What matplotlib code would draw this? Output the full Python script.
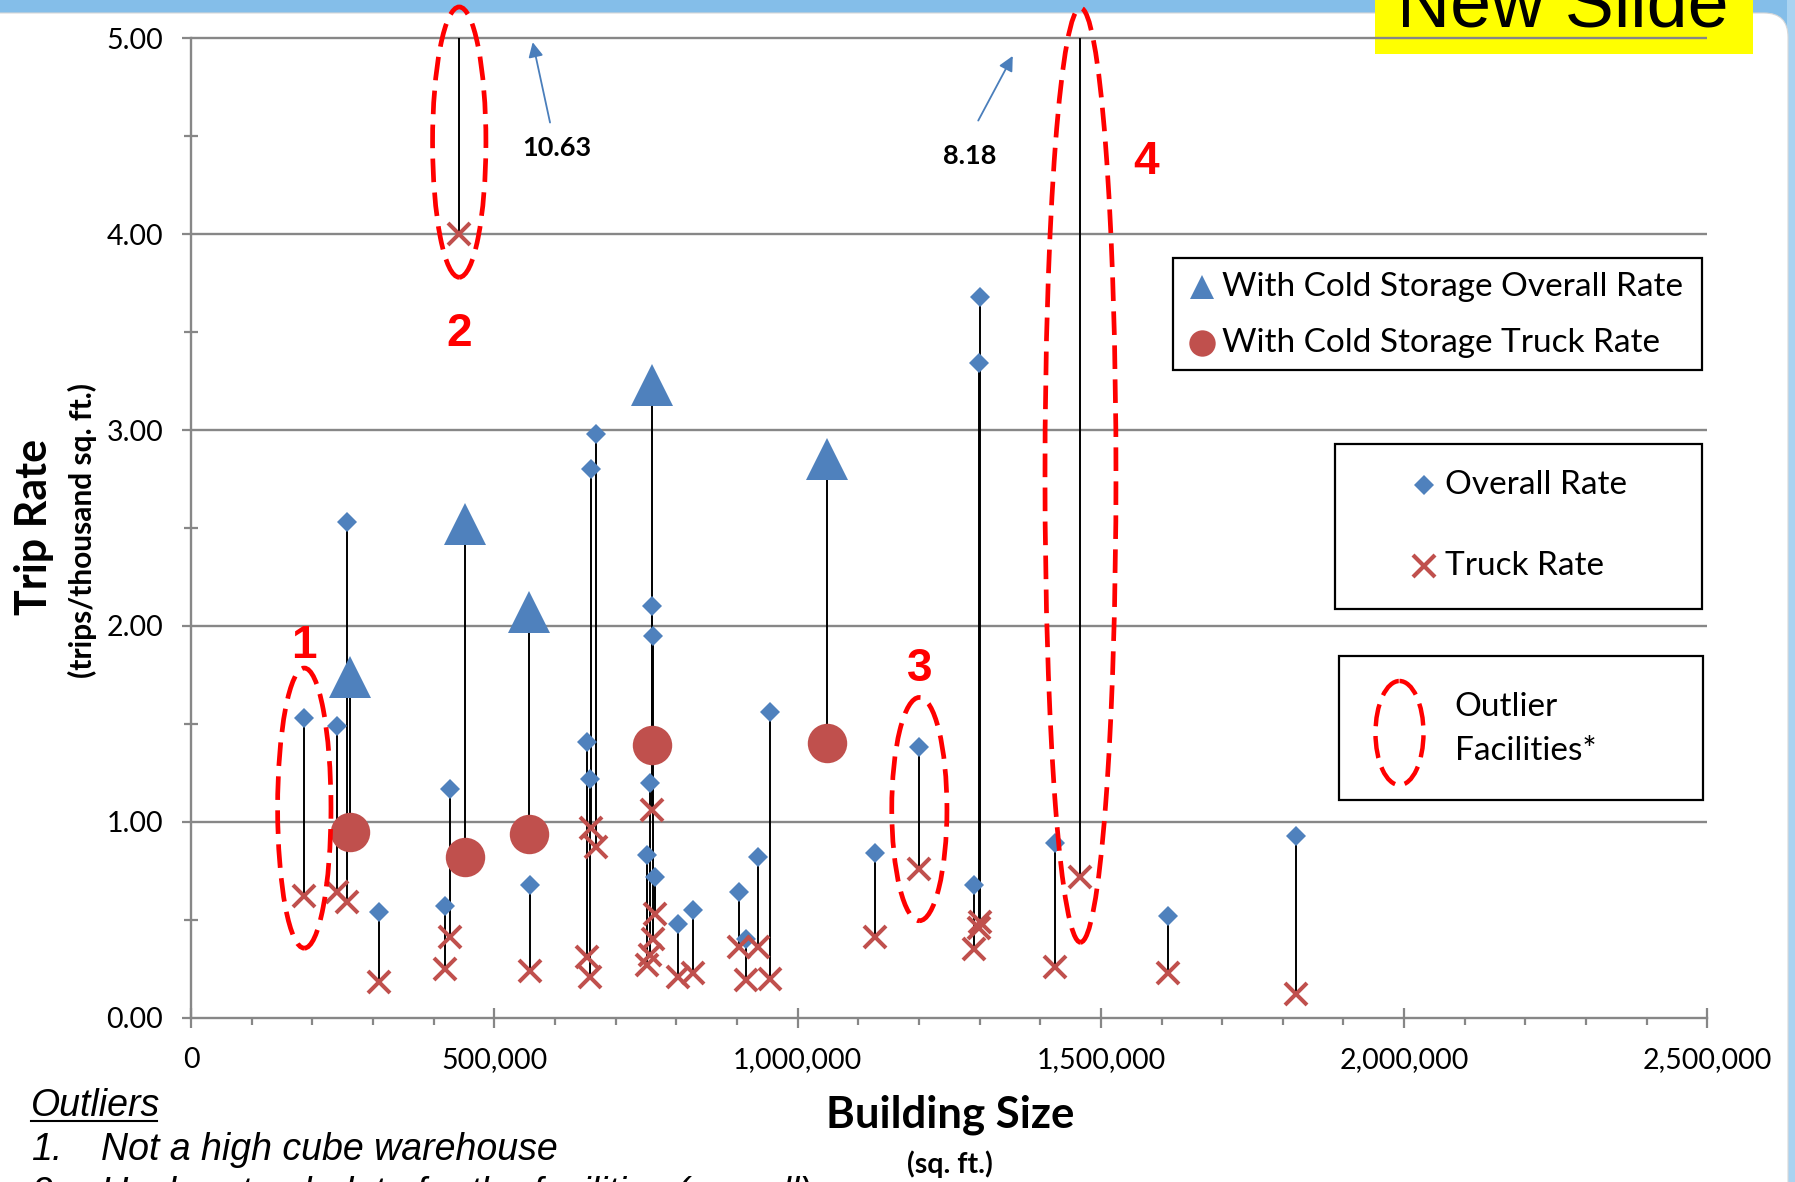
import matplotlib.pyplot as plt
from matplotlib.patches import Ellipse, Rectangle, FancyBboxPatch
from matplotlib.ticker import FuncFormatter, MultipleLocator

plt.rcParams['font.family'] = ['Lato', 'DejaVu Sans']

# building size (sq. ft.) with overall / truck trip rates (trips per thousand sq. ft.)
size_sqft = [186500, 241000, 256400, 309700, 418500, 426800, 442000, 558700,
             653200, 658200, 658700, 667600, 751200, 756600, 759300, 761000,
             764900, 803300, 827000, 902800, 914900, 935200, 954500, 1127600,
             1200700, 1290800, 1299500, 1300700, 1424400, 1466400, 1611300, 1822000]
overall_rate = [1.53, 1.49, 2.53, 0.54, 0.57, 1.17, 10.63, 0.68,
                1.41, 1.22, 2.80, 2.98, 0.83, 1.20, 2.10, 1.95,
                0.72, 0.48, 0.55, 0.64, 0.40, 0.82, 1.56, 0.84,
                1.38, 0.68, 3.34, 3.68, 0.89, 8.18, 0.52, 0.93]
truck_rate = [0.62, 0.64, 0.59, 0.18, 0.25, 0.41, 4.00, 0.24,
              0.31, 0.21, 0.97, 0.87, 0.27, 0.32, 1.06, 0.40,
              0.53, 0.21, 0.23, 0.36, 0.19, 0.36, 0.20, 0.41,
              0.76, 0.35, 0.46, 0.49, 0.26, 0.72, 0.23, 0.12]

# facilities with cold storage
cold_size = [261900, 451500, 557000, 759300, 1047900]
cold_overall = [1.74, 2.52, 2.07, 3.23, 2.85]
cold_truck = [0.95, 0.82, 0.94, 1.39, 1.40]

# outlier facilities: (label, index into size_sqft, ellipse centre y, width, height, label pos)
outliers = [
    ('1', 0, 1.07, 88000, 1.43, (186500, 1.90)),
    ('2', 6, 4.47, 88000, 1.38, (442000, 3.49)),
    ('3', 24, 1.065, 91000, 1.14, (1200700, 1.78)),
    ('4', 29, 2.77, 117000, 4.77, (1574000, 4.37)),
]
# off-scale overall rates: facility index -> (text pos, arrow tail, arrow tip)
off_scale = {
    6: ((602900, 4.44), (591700, 4.57), (563100, 4.98)),
    29: ((1283600, 4.40), (1297800, 4.58), (1354700, 4.91)),
}

BLUE = '#4F81BD'
RED = '#C0504D'
GRID = '#878787'
OUTLIER_RED = '#FF0000'

W, H = 1795, 1182
fig = plt.figure(figsize=(W / 100, H / 100), dpi=100)
fig.patch.set_facecolor('#84BEE9')

# slide background (pixel coordinates)
bg = fig.add_axes([0, 0, 1, 1], zorder=0)
bg.set_xlim(0, W)
bg.set_ylim(H, 0)
bg.axis('off')
bg.add_patch(Rectangle((1787, 0), 10, H, color='#A9D3F1', lw=0))
bg.add_patch(FancyBboxPatch((-40, 13), 1828, H + 60,
                            boxstyle='round,pad=0,rounding_size=24',
                            fc='white', ec='#D8D8D8', lw=0.8))
bg.add_patch(Rectangle((1375, -5), 378, 59.3, color='#FFFF00', lw=0))
bg.text(1396.7, 26.7, 'New Slide', fontsize=53, family='Liberation Sans',
        ha='left', va='baseline', color='black')

# chart
ax = fig.add_axes([191.2 / W, 1 - 1017.7 / H, (1707.3 - 191.2) / W, (1017.7 - 38.3) / H],
                  zorder=1)
ax.patch.set_alpha(0)
ax.set_xlim(0, 2500000)
ax.set_ylim(0, 5)

ax.hlines([1, 2, 3, 4, 5], 0, 2500000, color=GRID, lw=1.7, zorder=1, clip_on=False)

ax.vlines(size_sqft, truck_rate, overall_rate, color='black', lw=1.4, zorder=2)
ax.vlines(cold_size, cold_truck, cold_overall, color='black', lw=1.4, zorder=2)

ax.plot(size_sqft, overall_rate, 'D', color=BLUE, ms=10.5, mew=0, zorder=4)
ax.plot(size_sqft, truck_rate, 'x', color=RED, ms=15.5, mew=2.9, zorder=4)
ax.plot(cold_size, cold_overall, '^', color=BLUE, ms=30, mew=0, zorder=3)
ax.plot(cold_size, cold_truck, 'o', color=RED, ms=28.4, mew=0, zorder=3)

for label, i, yc, w, h, (lx, ly) in outliers:
    ax.add_patch(Ellipse((size_sqft[i], yc), w, h, fill=False, ec=OUTLIER_RED,
                         lw=3.4, ls=(0, (5, 2.2)), clip_on=False, zorder=6))
    ax.text(lx, ly, label, color=OUTLIER_RED, fontsize=33, fontweight='bold',
            family='Liberation Sans', ha='center', va='center', zorder=6)

for i, (txt_xy, tail, tip) in off_scale.items():
    ax.text(*txt_xy, f'{overall_rate[i]:.2f}', fontsize=19.5, fontweight='bold',
            ha='center', va='center', zorder=6)
    ax.annotate('', xy=tip, xytext=tail, annotation_clip=False,
                arrowprops=dict(arrowstyle='-|>', color='#4A7EBB', lw=1.3,
                                mutation_scale=22, shrinkA=0, shrinkB=0))

ax.xaxis.set_major_locator(MultipleLocator(500000))
ax.xaxis.set_minor_locator(MultipleLocator(100000))
ax.yaxis.set_major_locator(MultipleLocator(1))
ax.yaxis.set_minor_locator(MultipleLocator(0.5))
ax.xaxis.set_major_formatter(FuncFormatter(lambda v, p: f'{v:,.0f}'))
ax.yaxis.set_major_formatter(FuncFormatter(lambda v, p: f'{v:.2f}'))
ax.tick_params(axis='x', which='major', direction='inout', length=14, width=1.6,
               color=GRID, labelsize=20.5, pad=14)
ax.tick_params(axis='x', which='minor', direction='out', length=5, width=1.6, color=GRID)
ax.tick_params(axis='y', which='major', direction='out', length=6.2, width=1.6,
               color=GRID, labelsize=20.5, pad=14)
ax.tick_params(axis='y', which='minor', direction='inout', length=10, width=1.6, color=GRID)
for side in ('top', 'right'):
    ax.spines[side].set_visible(False)
for side in ('left', 'bottom'):
    ax.spines[side].set_color(GRID)
    ax.spines[side].set_linewidth(1.7)

# legends, axis titles and notes (pixel coordinates)
top = fig.add_axes([0, 0, 1, 1], zorder=2)
top.set_xlim(0, W)
top.set_ylim(H, 0)
top.axis('off')

legend_boxes = [(1173.4, 258.3, 528.1, 112.2), (1335.3, 443.9, 366.2, 164.9),
                (1338.7, 655.6, 364.0, 144.0)]
for x0, y0, bw, bh in legend_boxes:
    top.add_patch(Rectangle((x0, y0), bw, bh, fc='white', ec='black', lw=1.6))

top.plot(1202, 287, '^', color=BLUE, ms=17, mew=0)
top.text(1222.2, 287, 'With Cold Storage Overall Rate', fontsize=24, va='center')
top.plot(1202, 342.5, 'o', color=RED, ms=19, mew=0)
top.text(1222.2, 342.5, 'With Cold Storage Truck Rate', fontsize=24, va='center')
top.plot(1424.3, 485.3, 'D', color=BLUE, ms=10.5, mew=0)
top.text(1444.9, 485.3, 'Overall Rate', fontsize=24, va='center')
top.plot(1424.3, 566.4, 'x', color=RED, ms=16, mew=3)
top.text(1444.9, 566.4, 'Truck Rate', fontsize=24, va='center')
top.add_patch(Ellipse((1399.5, 733), 48, 104, fill=False, ec=OUTLIER_RED,
                      lw=3.2, ls=(0, (5, 2.2))))
top.text(1454.7, 706.7, 'Outlier', fontsize=24, va='center')
top.text(1454.7, 750.8, 'Facilities*', fontsize=24, va='center')

top.text(34, 527, 'Trip Rate', fontsize=31, fontweight='bold', rotation=90,
         ha='center', va='center')
top.text(82, 530, '(trips/thousand sq. ft.)', fontsize=21.5, fontweight='bold',
         rotation=90, ha='center', va='center')
top.text(950, 1127.6, 'Building Size', fontsize=31.5, fontweight='bold',
         ha='center', va='baseline')
top.text(950, 1173.4, '(sq. ft.)', fontsize=20.5, fontweight='bold',
         ha='center', va='baseline')

# outlier notes below the chart (last line runs off the bottom of the slide)
note = dict(fontsize=27, style='italic', family='Liberation Sans', va='baseline')
top.text(31, 1116, 'Outliers', **note)
top.plot([31, 157], [1121, 1121], color='black', lw=1.5)
top.text(31, 1160, '1.', **note)
top.text(100.7, 1160, 'Not a high cube warehouse', **note)
top.text(31, 1204, '2.', **note)
top.text(100.7, 1204, 'Unclear truck data for the facilities (overall)', **note)

fig.savefig('out.png', dpi=100)
